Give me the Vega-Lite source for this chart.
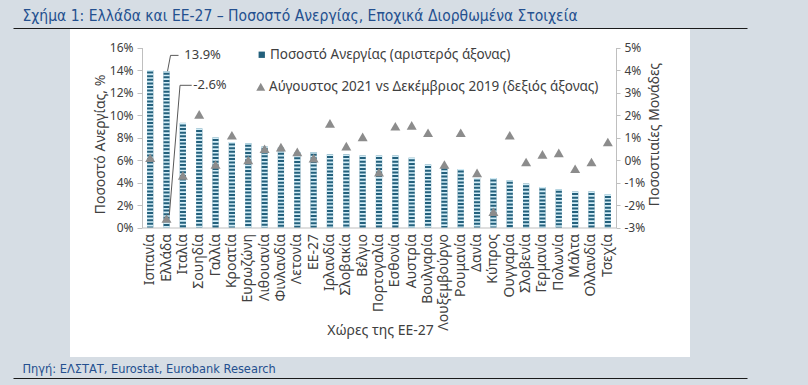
{
  "$schema": "https://vega.github.io/schema/vega-lite/v6.json",
  "width": 620,
  "height": 329,
  "autosize": {"type": "none"},
  "padding": {"left": 70, "top": 28, "right": 118, "bottom": 28},
  "background": "#d6dde4",
  "config": {
    "view": {"fill": "#ffffff", "stroke": null},
    "font": "Noto Sans",
    "axis": {
      "labelFont": "Noto Sans",
      "titleFont": "Noto Sans",
      "labelColor": "#404040",
      "titleColor": "#404040",
      "titleFontWeight": "normal",
      "grid": false,
      "domainColor": "#bfbfbf",
      "tickColor": "#bfbfbf"
    },
    "legend": {"labelFont": "Noto Sans", "labelColor": "#404040", "labelFontSize": 13.5, "padding": 0, "labelLimit": 0}
  },
  "data": {
    "values": [
      {"c": "Ισπανία", "u": 14.0, "d": 0.1},
      {"c": "Ελλάδα", "u": 13.9, "d": -2.6},
      {"c": "Ιταλία", "u": 9.3, "d": -0.68},
      {"c": "Σουηδία", "u": 8.8, "d": 2.03},
      {"c": "Γαλλία", "u": 8.0, "d": -0.2},
      {"c": "Κροατία", "u": 7.6, "d": 1.1},
      {"c": "Ευρωζώνη", "u": 7.5, "d": 0.0},
      {"c": "Λιθουανία", "u": 7.2, "d": 0.5},
      {"c": "Φινλανδία", "u": 7.1, "d": 0.57},
      {"c": "Λετονία", "u": 6.7, "d": 0.36},
      {"c": "ΕΕ-27", "u": 6.7, "d": 0.08},
      {"c": "Ιρλανδία", "u": 6.5, "d": 1.63},
      {"c": "Σλοβακία", "u": 6.5, "d": 0.62},
      {"c": "Βέλγιο", "u": 6.4, "d": 1.03},
      {"c": "Πορτογαλία", "u": 6.4, "d": -0.54},
      {"c": "Εσθονία", "u": 6.4, "d": 1.5},
      {"c": "Αυστρία", "u": 6.2, "d": 1.54},
      {"c": "Βουλγαρία", "u": 5.6, "d": 1.21},
      {"c": "Λουξεμβούργο", "u": 5.4, "d": -0.2},
      {"c": "Ρουμανία", "u": 5.2, "d": 1.21},
      {"c": "Δανία", "u": 4.4, "d": -0.57},
      {"c": "Κύπρος", "u": 4.4, "d": -2.3},
      {"c": "Ουγγαρία", "u": 4.2, "d": 1.1},
      {"c": "Σλοβενία", "u": 3.9, "d": -0.09},
      {"c": "Γερμανία", "u": 3.6, "d": 0.25},
      {"c": "Πολωνία", "u": 3.4, "d": 0.32},
      {"c": "Μάλτα", "u": 3.2, "d": -0.39},
      {"c": "Ολλανδία", "u": 3.2, "d": -0.09},
      {"c": "Τσεχία", "u": 2.95, "d": 0.8}
    ]
  },
  "resolve": {"scale": {"x": "independent", "y": "independent"}, "axis": {"x": "independent", "y": "independent"}},
  "layer": [
    {
      "mark": {"type": "bar"},
      "encoding": {
        "x": {
          "field": "c", "type": "nominal", "sort": null,
          "scale": {"range": [72, 546], "paddingInner": 0.62, "paddingOuter": 0.31},
          "axis": {
            "orient": "bottom", "offset": -129.5, "ticks": false, "labelAngle": -90,
            "labelAlign": "right", "labelBaseline": "middle", "labelPadding": 6,
            "labelFontSize": 14, "title": "Χώρες της ΕΕ-27", "titleFontSize": 14,
            "titleX": 310, "titleY": 103, "titleAlign": "center", "titleBaseline": "middle"
          }
        },
        "y": {
          "field": "u", "type": "quantitative",
          "scale": {"domain": [0, 16], "range": [199.5, 19.5], "nice": false, "zero": false},
          "axis": {
            "orient": "left", "offset": -72, "values": [0, 2, 4, 6, 8, 10, 12, 14, 16],
            "labelExpr": "datum.value + '%'", "labelFontSize": 12, "tickSize": 5, "labelPadding": 4,
            "title": "Ποσοστό Ανεργίας, %", "titleFontSize": 14, "titleAngle": -90,
            "titleX": -42, "titleY": 116, "titleAlign": "center", "titleBaseline": "middle"
          }
        },
        "color": {
          "datum": "Ποσοστό Ανεργίας (αριστερός άξονας)", "type": "nominal",
          "scale": {"range": ["#23607c"]},
          "legend": {
            "orient": "none", "legendX": 185, "legendY": 20, "title": null,
            "symbolType": "square", "symbolSize": 40, "labelOffset": 1.5, "labelFontSize": 13.5
          }
        }
      }
    },
    {
      "mark": {"type": "rule", "strokeWidth": 6.5, "strokeDash": [1.6, 2], "color": "#d4eef8", "strokeCap": "butt"},
      "encoding": {
        "x": {"field": "c", "type": "nominal", "sort": null, "axis": null,
          "scale": {"range": [72, 546], "paddingInner": 0.62, "paddingOuter": 0.31}},
        "y": {"field": "u", "type": "quantitative", "axis": null,
          "scale": {"domain": [0, 16], "range": [199.5, 19.5], "nice": false, "zero": false}},
        "y2": {"datum": 0}
      }
    },
    {
      "mark": {"type": "point", "filled": true, "size": 100, "color": "#8c8c8c", "opacity": 1},
      "encoding": {
        "x": {"field": "c", "type": "nominal", "sort": null, "axis": null,
          "scale": {"range": [72, 546], "paddingInner": 0.62, "paddingOuter": 0.31}},
        "y": {
          "field": "d", "type": "quantitative",
          "scale": {"domain": [-3, 5], "range": [199.5, 19.5], "nice": false, "zero": false},
          "axis": {
            "orient": "right", "offset": -74, "values": [-3, -2, -1, 0, 1, 2, 3, 4, 5],
            "labelExpr": "datum.value + '%'", "labelFontSize": 12, "tickSize": 4, "labelPadding": 4,
            "title": "Ποσοστιαίες Μονάδες", "titleFontSize": 14, "titleAngle": -90,
            "titleX": 38, "titleY": 106, "titleAlign": "center", "titleBaseline": "middle"
          }
        },
        "shape": {
          "datum": "Αύγουστος 2021 vs Δεκέμβριος 2019 (δεξιός άξονας)", "type": "nominal",
          "scale": {"range": ["triangle-up"]},
          "legend": {
            "orient": "none", "legendX": 184, "legendY": 52, "title": null,
            "symbolSize": 81, "symbolFillColor": "#8c8c8c", "symbolStrokeWidth": 0,
            "labelOffset": 1.5, "labelFontSize": 13.5
          }
        }
      }
    },
    {
      "transform": [
        {"filter": "datum.c == 'Ελλάδα'"},
        {"calculate": "datum.u + '%'", "as": "lbl"}
      ],
      "mark": {"type": "text", "align": "left", "baseline": "middle", "dx": 17.8, "fontSize": 13, "color": "#404040"},
      "encoding": {
        "x": {"field": "c", "type": "nominal", "axis": null,
          "scale": {"domain": ["Ισπανία", "Ελλάδα", "Ιταλία", "Σουηδία", "Γαλλία", "Κροατία", "Ευρωζώνη", "Λιθουανία", "Φινλανδία", "Λετονία", "ΕΕ-27", "Ιρλανδία", "Σλοβακία", "Βέλγιο", "Πορτογαλία", "Εσθονία", "Αυστρία", "Βουλγαρία", "Λουξεμβούργο", "Ρουμανία", "Δανία", "Κύπρος", "Ουγγαρία", "Σλοβενία", "Γερμανία", "Πολωνία", "Μάλτα", "Ολλανδία", "Τσεχία"], "range": [72, 546], "paddingInner": 0.62, "paddingOuter": 0.31}},
        "y": {"datum": 15.3, "type": "quantitative", "axis": null,
          "scale": {"domain": [0, 16], "range": [199.5, 19.5], "nice": false, "zero": false}},
        "text": {"field": "lbl"}
      }
    },
    {
      "transform": [{"filter": "datum.c == 'Ελλάδα'"}],
      "mark": {"type": "rule", "color": "#595959", "strokeWidth": 1, "xOffset": 1, "x2Offset": 4},
      "encoding": {
        "x": {"field": "c", "type": "nominal", "axis": null,
          "scale": {"domain": ["Ισπανία", "Ελλάδα", "Ιταλία", "Σουηδία", "Γαλλία", "Κροατία", "Ευρωζώνη", "Λιθουανία", "Φινλανδία", "Λετονία", "ΕΕ-27", "Ιρλανδία", "Σλοβακία", "Βέλγιο", "Πορτογαλία", "Εσθονία", "Αυστρία", "Βουλγαρία", "Λουξεμβούργο", "Ρουμανία", "Δανία", "Κύπρος", "Ουγγαρία", "Σλοβενία", "Γερμανία", "Πολωνία", "Μάλτα", "Ολλανδία", "Τσεχία"], "range": [72, 546], "paddingInner": 0.62, "paddingOuter": 0.31}},
        "x2": {"field": "c"},
        "y": {"field": "u", "type": "quantitative", "axis": null,
          "scale": {"domain": [0, 16], "range": [199.5, 19.5], "nice": false, "zero": false}},
        "y2": {"datum": 15.3}
      }
    },
    {
      "transform": [{"filter": "datum.c == 'Ελλάδα'"}],
      "mark": {"type": "rule", "color": "#595959", "strokeWidth": 1, "xOffset": 4, "x2Offset": 12},
      "encoding": {
        "x": {"field": "c", "type": "nominal", "axis": null,
          "scale": {"domain": ["Ισπανία", "Ελλάδα", "Ιταλία", "Σουηδία", "Γαλλία", "Κροατία", "Ευρωζώνη", "Λιθουανία", "Φινλανδία", "Λετονία", "ΕΕ-27", "Ιρλανδία", "Σλοβακία", "Βέλγιο", "Πορτογαλία", "Εσθονία", "Αυστρία", "Βουλγαρία", "Λουξεμβούργο", "Ρουμανία", "Δανία", "Κύπρος", "Ουγγαρία", "Σλοβενία", "Γερμανία", "Πολωνία", "Μάλτα", "Ολλανδία", "Τσεχία"], "range": [72, 546], "paddingInner": 0.62, "paddingOuter": 0.31}},
        "x2": {"field": "c"},
        "y": {"datum": 15.3, "type": "quantitative", "axis": null,
          "scale": {"domain": [0, 16], "range": [199.5, 19.5], "nice": false, "zero": false}},
        "y2": {"datum": 15.3}
      }
    },
    {
      "transform": [
        {"filter": "datum.c == 'Ελλάδα'"},
        {"calculate": "datum.d + '%'", "as": "lbl"}
      ],
      "mark": {"type": "text", "align": "left", "baseline": "middle", "dx": 26.8, "fontSize": 13, "color": "#404040"},
      "encoding": {
        "x": {"field": "c", "type": "nominal", "axis": null,
          "scale": {"domain": ["Ισπανία", "Ελλάδα", "Ιταλία", "Σουηδία", "Γαλλία", "Κροατία", "Ευρωζώνη", "Λιθουανία", "Φινλανδία", "Λετονία", "ΕΕ-27", "Ιρλανδία", "Σλοβακία", "Βέλγιο", "Πορτογαλία", "Εσθονία", "Αυστρία", "Βουλγαρία", "Λουξεμβούργο", "Ρουμανία", "Δανία", "Κύπρος", "Ουγγαρία", "Σλοβενία", "Γερμανία", "Πολωνία", "Μάλτα", "Ολλανδία", "Τσεχία"], "range": [72, 546], "paddingInner": 0.62, "paddingOuter": 0.31}},
        "y": {"datum": 3.32, "type": "quantitative", "axis": null,
          "scale": {"domain": [-3, 5], "range": [199.5, 19.5], "nice": false, "zero": false}},
        "text": {"field": "lbl"}
      }
    },
    {
      "transform": [{"filter": "datum.c == 'Ελλάδα'"}],
      "mark": {"type": "rule", "color": "#595959", "strokeWidth": 1, "xOffset": 2.8, "x2Offset": 13.5},
      "encoding": {
        "x": {"field": "c", "type": "nominal", "axis": null,
          "scale": {"domain": ["Ισπανία", "Ελλάδα", "Ιταλία", "Σουηδία", "Γαλλία", "Κροατία", "Ευρωζώνη", "Λιθουανία", "Φινλανδία", "Λετονία", "ΕΕ-27", "Ιρλανδία", "Σλοβακία", "Βέλγιο", "Πορτογαλία", "Εσθονία", "Αυστρία", "Βουλγαρία", "Λουξεμβούργο", "Ρουμανία", "Δανία", "Κύπρος", "Ουγγαρία", "Σλοβενία", "Γερμανία", "Πολωνία", "Μάλτα", "Ολλανδία", "Τσεχία"], "range": [72, 546], "paddingInner": 0.62, "paddingOuter": 0.31}},
        "x2": {"field": "c"},
        "y": {"datum": -2.45, "type": "quantitative", "axis": null,
          "scale": {"domain": [-3, 5], "range": [199.5, 19.5], "nice": false, "zero": false}},
        "y2": {"datum": 3.32}
      }
    },
    {
      "transform": [{"filter": "datum.c == 'Ελλάδα'"}],
      "mark": {"type": "rule", "color": "#595959", "strokeWidth": 1, "xOffset": 13.5, "x2Offset": 25.2},
      "encoding": {
        "x": {"field": "c", "type": "nominal", "axis": null,
          "scale": {"domain": ["Ισπανία", "Ελλάδα", "Ιταλία", "Σουηδία", "Γαλλία", "Κροατία", "Ευρωζώνη", "Λιθουανία", "Φινλανδία", "Λετονία", "ΕΕ-27", "Ιρλανδία", "Σλοβακία", "Βέλγιο", "Πορτογαλία", "Εσθονία", "Αυστρία", "Βουλγαρία", "Λουξεμβούργο", "Ρουμανία", "Δανία", "Κύπρος", "Ουγγαρία", "Σλοβενία", "Γερμανία", "Πολωνία", "Μάλτα", "Ολλανδία", "Τσεχία"], "range": [72, 546], "paddingInner": 0.62, "paddingOuter": 0.31}},
        "x2": {"field": "c"},
        "y": {"datum": 3.32, "type": "quantitative", "axis": null,
          "scale": {"domain": [-3, 5], "range": [199.5, 19.5], "nice": false, "zero": false}},
        "y2": {"datum": 3.32}
      }
    },
    {
      "mark": {"type": "point", "opacity": 0},
      "encoding": {
        "x": {
          "datum": 0, "type": "quantitative",
          "scale": {"domain": [0, 1], "range": [-57, 677], "nice": false, "zero": false},
          "axis": {
            "orient": "top", "offset": 0, "ticks": false, "labels": false, "domainColor": "#1a1a1a", "domainWidth": 1,
            "title": "Σχήμα 1: Ελλάδα και ΕΕ-27 – Ποσοστό Ανεργίας, Εποχικά Διορθωμένα Στοιχεία",
            "titleFont": "DejaVu Sans Condensed, Roboto", "titleFontSize": 15.5, "titleColor": "#24508f",
            "titleX": -48, "titleY": -8, "titleAlign": "left", "titleBaseline": "alphabetic", "titleAngle": 0
          }
        },
        "y": {"datum": 0, "type": "quantitative", "axis": null}
      }
    },
    {
      "mark": {"type": "point", "opacity": 0},
      "encoding": {
        "x": {
          "datum": 0, "type": "quantitative",
          "scale": {"domain": [0, 1], "range": [-57, 677], "nice": false, "zero": false},
          "axis": {
            "orient": "bottom", "offset": 21, "ticks": false, "labels": false, "domainColor": "#1a1a1a", "domainWidth": 1,
            "title": "Πηγή: ΕΛΣΤΑΤ, Eurostat, Eurobank Research",
            "titleFont": "DejaVu Sans Condensed, Roboto", "titleFontSize": 12.7, "titleColor": "#24508f",
            "titleX": -48, "titleY": -6, "titleAlign": "left", "titleBaseline": "alphabetic", "titleAngle": 0
          }
        },
        "y": {"datum": 0, "type": "quantitative", "axis": null}
      }
    }
  ]
}
